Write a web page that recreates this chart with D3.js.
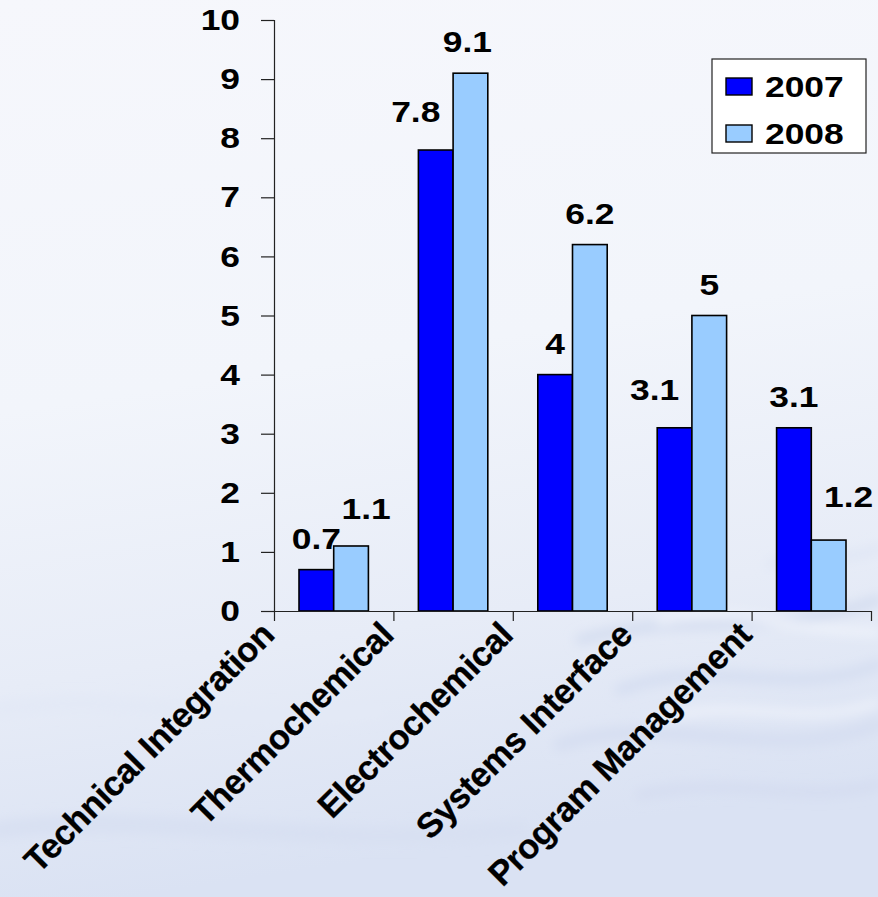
<!DOCTYPE html>
<html>
<head>
<meta charset="utf-8">
<script src="https://cdn.jsdelivr.net/npm/d3@7"></script>
<style>
  html, body { margin: 0; padding: 0; background: #eef2fa; }
  svg { display: block; }
  text { font-family: "Liberation Sans", Arial, sans-serif; font-weight: bold; fill: #000; }
</style>
</head>
<body>
<svg id="chart" width="878" height="897"></svg>
<script>
// Chart data
const categories = ["Technical Integration", "Thermochemical", "Electrochemical", "Systems Interface", "Program Management"];
const seriesNames = ["2007", "2008"];
const values2007 = [0.7, 7.8, 4, 3.1, 3.1];
const values2008 = [1.1, 9.1, 6.2, 5, 1.2];
const yTickValues = [0, 1, 2, 3, 4, 5, 6, 7, 8, 9, 10];
const seriesColors = ["#0000ff", "#99ccff"];

// Hand-placed offsets for a few value labels that were moved to avoid overlaps
const labelShift2007 = [[0, 0], [-20, -7], [0, 0], [-20, -7], [0, 0]];
const labelShift2008 = [[15, -6], [-3, 0], [0, 0], [0, 0], [20, -12]];

const W = 878, H = 897;
const plot = { left: 274, right: 871, top: 20, bottom: 611 };
const numSize = 30;      // font size of numbers and legend entries
const wide = 1.18;       // horizontal stretch of the heavy number type

const svg = d3.select("#chart");
const defs = svg.append("defs");

// Soft water-like backdrop
const bg = defs.append("linearGradient").attr("id", "bgGrad")
  .attr("x1", 0).attr("y1", 0).attr("x2", 0.15).attr("y2", 1);
bg.append("stop").attr("offset", "0").attr("stop-color", "#f6f7fc");
bg.append("stop").attr("offset", "0.45").attr("stop-color", "#f2f5fb");
bg.append("stop").attr("offset", "0.75").attr("stop-color", "#e7ecf7");
bg.append("stop").attr("offset", "1").attr("stop-color", "#dae2f3");
svg.append("rect").attr("width", W).attr("height", H).attr("fill", "url(#bgGrad)");

const blur = defs.append("filter").attr("id", "soft").attr("x", "-20%").attr("y", "-50%").attr("width", "140%").attr("height", "200%");
blur.append("feGaussianBlur").attr("stdDeviation", 6);

const ripples = svg.append("g").attr("filter", "url(#soft)");
const rippleSpecs = [
  { d: "M580,640 C680,610 770,640 878,600", c: "#d2dbef", w: 9 },
  { d: "M620,690 C710,655 790,700 878,665", c: "#d5def1", w: 11 },
  { d: "M560,745 C660,710 770,765 878,725", c: "#d6def1", w: 13 },
  { d: "M640,795 C730,775 805,805 878,785", c: "#d4dcf0", w: 9 },
  { d: "M770,565 C805,548 845,565 878,548", c: "#dde4f4", w: 7 },
  { d: "M0,710 C120,690 240,730 380,710", c: "#e3e9f6", w: 16 },
  { d: "M0,830 C150,810 300,850 520,830", c: "#d8e0f2", w: 18 },
  { d: "M660,622 C730,602 795,632 878,632", c: "#f7f9fe", w: 5 },
  { d: "M650,722 C735,692 805,732 878,702", c: "#f5f7fd", w: 5 }
];
ripples.selectAll("path").data(rippleSpecs).join("path")
  .attr("d", d => d.d).attr("fill", "none")
  .attr("stroke", d => d.c).attr("stroke-width", d => d.w).attr("stroke-linecap", "round");

// Scales
const y = d3.scaleLinear().domain([0, 10]).range([plot.bottom, plot.top]);
const x0 = d3.scaleBand().domain(categories).range([plot.left, plot.right]).padding(0);
const x1 = d3.scaleBand().domain(seriesNames).range([25, 94.4]).padding(0);
const xEdges = d3.scaleLinear().domain([0, categories.length]).range([plot.left, plot.right]);

const rows = categories.map((c, i) => ({
  category: c,
  bars: [
    { series: "2007", value: values2007[i], shift: labelShift2007[i] },
    { series: "2008", value: values2008[i], shift: labelShift2008[i] }
  ]
}));

// Y axis
const yAxis = svg.append("g").attr("transform", `translate(${plot.left},0)`)
  .call(d3.axisLeft(y).tickValues(yTickValues).tickFormat(d3.format("d")).tickSize(13).tickPadding(21));
yAxis.select(".domain").attr("stroke", "#222").attr("stroke-width", 1.2);
yAxis.selectAll(".tick line").attr("stroke", "#222").attr("stroke-width", 1.2);
yAxis.selectAll(".tick text")
  .attr("x", 0)
  .attr("transform", `translate(-34,0) scale(${wide},1)`)
  .attr("font-size", numSize).attr("font-family", "Liberation Sans, Arial, sans-serif")
  .attr("font-weight", "bold").attr("fill", "#000");

// Bars
const groups = svg.append("g").selectAll("g").data(rows).join("g")
  .attr("transform", d => `translate(${x0(d.category)},0)`);

groups.selectAll("rect").data(d => d.bars).join("rect")
  .attr("x", d => x1(d.series))
  .attr("y", d => y(d.value))
  .attr("width", x1.bandwidth())
  .attr("height", d => y(0) - y(d.value))
  .attr("fill", d => seriesColors[seriesNames.indexOf(d.series)])
  .attr("stroke", "#000").attr("stroke-width", 1.6);

// Value labels
groups.selectAll("text.val").data(d => d.bars).join("text")
  .attr("class", "val")
  .attr("transform", d => `translate(${x1(d.series) + x1.bandwidth() / 2 + d.shift[0]},${y(d.value) - 21 + d.shift[1]}) scale(${wide},1)`)
  .attr("text-anchor", "middle")
  .attr("font-size", numSize)
  .text(d => d.value);

// X axis with ticks on category edges
const xAxis = svg.append("g").attr("transform", `translate(0,${plot.bottom})`)
  .call(d3.axisBottom(xEdges).ticks(categories.length).tickFormat("").tickSize(10).tickSizeOuter(0));
xAxis.select(".domain").attr("stroke", "#222").attr("stroke-width", 1.2);
xAxis.selectAll(".tick line").attr("stroke", "#222").attr("stroke-width", 1.2);

// Slanted category names
svg.append("g").selectAll("text").data(categories).join("text")
  .attr("transform", d => `translate(${x0(d) + 2},${plot.bottom + 26}) rotate(-45)`)
  .attr("text-anchor", "end")
  .attr("font-size", 34.5)
  .attr("letter-spacing", -0.4)
  .attr("stroke", "#000").attr("stroke-width", 0.3)
  .text(d => d);

// Legend
const legend = svg.append("g").attr("transform", "translate(712,59)");
legend.append("rect").attr("width", 154).attr("height", 94)
  .attr("fill", "#ffffff").attr("stroke", "#222").attr("stroke-width", 1.2);
const items = legend.selectAll("g").data(seriesNames).join("g")
  .attr("transform", (d, i) => `translate(14,${19 + i * 47})`);
items.append("rect").attr("width", 26).attr("height", 17)
  .attr("fill", (d, i) => seriesColors[i]).attr("stroke", "#000").attr("stroke-width", 1.4);
items.append("text")
  .attr("transform", `translate(39,19) scale(${wide},1)`)
  .attr("font-size", numSize).text(d => d);
</script>
</body>
</html>
